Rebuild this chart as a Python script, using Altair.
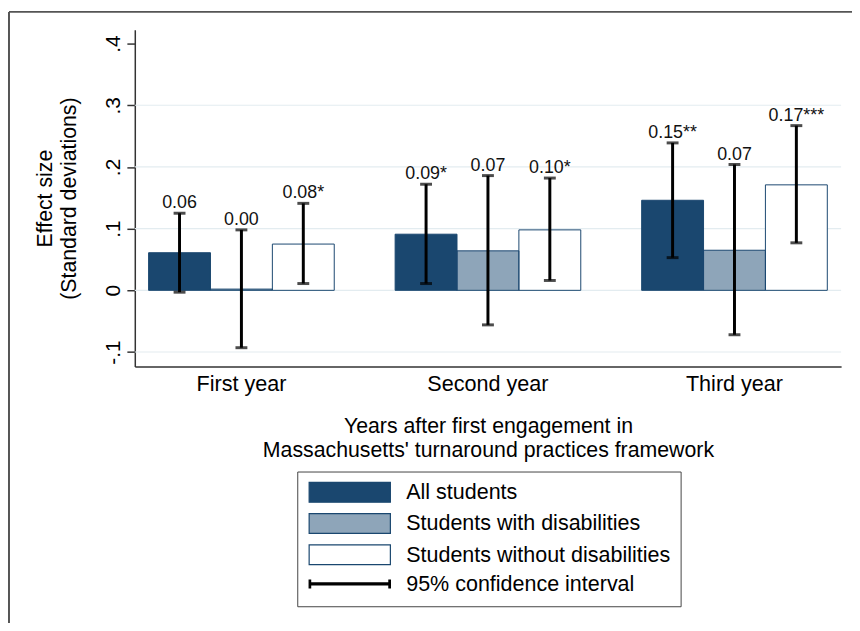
import json
import altair as alt
import pandas as pd

FONT = "Liberation Sans"
NAVY = "#1a476f"

years = ["First year", "Second year", "Third year"]
groups = ["All students", "Students with disabilities", "Students without disabilities"]
ci_label = "95% confidence interval"

est_all = [0.061, 0.091, 0.146]
est_swd = [0.002, 0.064, 0.065]
est_nod = [0.075, 0.098, 0.171]
lo_all = [-0.003, 0.011, 0.053]
lo_swd = [-0.093, -0.056, -0.072]
lo_nod = [0.011, 0.016, 0.077]
hi_all = [0.125, 0.172, 0.239]
hi_swd = [0.098, 0.186, 0.204]
hi_nod = [0.141, 0.182, 0.267]
lab_all = ["0.06", "0.09*", "0.15**"]
lab_swd = ["0.00", "0.07", "0.07"]
lab_nod = ["0.08*", "0.10*", "0.17***"]

y_ticks = [-0.1, 0, 0.1, 0.2, 0.3, 0.4]
y_tick_labels = ["-.1", "0", ".1", ".2", ".3", ".4"]
grid_values = [-0.1, 0, 0.1, 0.2, 0.3]
fill_colors = [NAVY, "#8ea5b9", "#ffffff", "#000000"]

rows = []
for g, e, lo, hi, lab in [
    (groups[0], est_all, lo_all, hi_all, lab_all),
    (groups[1], est_swd, lo_swd, hi_swd, lab_swd),
    (groups[2], est_nod, lo_nod, hi_nod, lab_nod),
]:
    for i, yr in enumerate(years):
        rows.append({"year": yr, "group": g, "est": e[i], "lo": lo[i], "hi": hi[i], "label": lab[i]})
df = pd.DataFrame(rows)

y_scale = alt.Scale(domain=[-0.1235, 0.4225], nice=False, zero=False)
label_expr = f"{json.dumps(y_tick_labels)}[indexof({json.dumps(y_ticks)}, datum.value)]"
y_axis = alt.Axis(
    values=y_ticks, labelExpr=label_expr, labelAngle=270, labelAlign="center",
    labelBaseline="bottom", labelFontSize=21, labelPadding=3, tickSize=8,
    tickColor="#333", tickWidth=1.5, domainColor="#333", domainWidth=1.5, grid=False,
    title=["Effect size", "(Standard deviations)"], titleFontSize=21.5, titlePadding=23,
    titleLineHeight=24.5, titleFontWeight="normal", titleColor="black", labelColor="black",
)
x_axis = alt.Axis(
    title=["Years after first engagement in", "Massachusetts' turnaround practices framework"],
    labelAngle=0, ticks=False, labelFontSize=21.8, labelPadding=7, titleFontSize=21.5,
    titlePadding=21, titleLineHeight=24.5, domainColor="#333", domainWidth=1.5,
    labelColor="black", titleColor="black", titleFontWeight="normal", grid=False,
)

def Y(field):
    return alt.Y(field, type="quantitative", scale=y_scale, axis=y_axis)

# legend symbols: path units are scaled by sqrt(symbolSize)/2 = 10 px
RECT_PATH = "M-4.1,-1H4.1V1H-4.1Z"
CI_PATH = ("M-4.1,-0.1H4.1V0.1H-4.1Z"
           "M-4.1,-0.4H-3.95V0.4H-4.1Z"
           "M3.95,-0.4H4.1V0.4H3.95Z")
is_ci = f"datum.label === '{ci_label}'"

legend = alt.Legend(
    title=None, orient="none", legendX=164, legendY=446, direction="vertical",
    symbolType=alt.ExprRef(expr=f"{is_ci} ? '{CI_PATH}' : '{RECT_PATH}'"),
    symbolStrokeColor=alt.ExprRef(expr=f"{is_ci} ? 'black' : '{NAVY}'"),
    symbolSize=400, symbolStrokeWidth=1.2, symbolOffset=32, labelFontSize=21.7,
    labelFont=FONT, labelColor="black", labelOffset=46, rowPadding=5.5, padding=10,
    strokeColor="#444", labelLimit=500,
)

base = alt.Chart(df).encode(
    x=alt.X("year:N", sort=years, scale=alt.Scale(paddingInner=0.247, paddingOuter=0.056), axis=x_axis),
    xOffset=alt.XOffset("group:N", sort=groups, scale=alt.Scale(paddingInner=0, paddingOuter=0)),
)

bars = base.mark_bar().encode(
    y=Y("est"), y2=alt.datum(0),
    fill=alt.Fill("group:N", scale=alt.Scale(domain=groups + [ci_label], range=fill_colors), legend=legend),
)
outlines = base.mark_bar(fillOpacity=0, stroke=NAVY, strokeWidth=1).encode(y=Y("est"), y2=alt.datum(0))
err = base.mark_rule(color="black", strokeWidth=3).encode(y=Y("lo"), y2="hi:Q")
cap_lo = base.mark_tick(color="black", size=12, thickness=3).encode(y=Y("lo"))
cap_hi = base.mark_tick(color="black", size=12, thickness=3).encode(y=Y("hi"))
texts = base.mark_text(fontSize=18, dy=-5, baseline="alphabetic", font=FONT, color="#111").encode(
    y=Y("hi"), text="label:N"
)

grid = alt.Chart(pd.DataFrame({"v": grid_values})).mark_rule(color="#e3ecf0", strokeWidth=1.2).encode(y=Y("v"))

one = pd.DataFrame({"k": [0]})
frame_left = alt.Chart(one).mark_rule(color="#555", strokeWidth=2).encode(
    x=alt.value(-127), y=alt.value(-18), y2=alt.value(700))
frame_top = alt.Chart(one).mark_rule(color="#555", strokeWidth=2).encode(
    y=alt.value(-18), x=alt.value(-127), x2=alt.value(900))

chart = alt.layer(frame_left, frame_top, grid, bars, outlines, err, cap_lo, cap_hi, texts).properties(
    width=713, height=340,
    padding={"left": 128, "top": 19, "right": 11, "bottom": 256},
    autosize=alt.AutoSizeParams(type="none"),
).configure(font=FONT).configure_view(stroke=None)

chart.save("out.html", embed_options={"renderer": "svg", "actions": False})
